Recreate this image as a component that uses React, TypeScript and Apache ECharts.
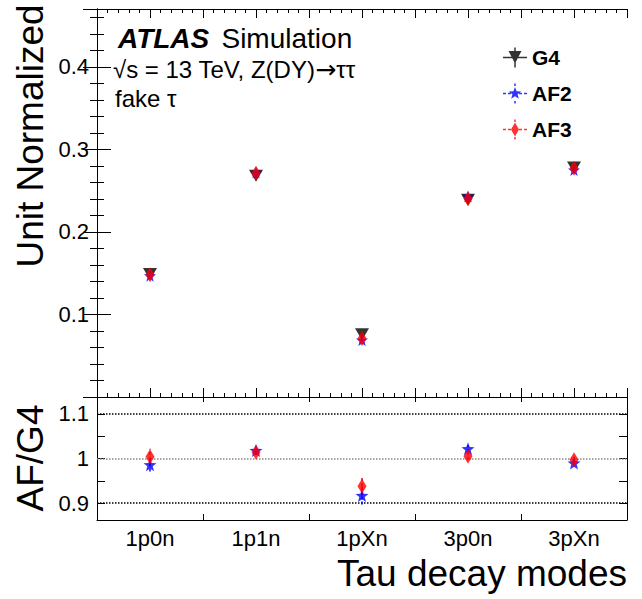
import React, { useEffect, useRef } from "react";
import * as echarts from "echarts";

const categories = ["1p0n", "1p1n", "1pXn", "3p0n", "3pXn"];
const g4Values = [0.149, 0.268, 0.076, 0.239, 0.278];
const af2Values = [0.147, 0.272, 0.069, 0.243, 0.275];
const af3Values = [0.148, 0.271, 0.071, 0.240, 0.277];
const g4Err = [0.002, 0.003, 0.0015, 0.003, 0.003];
const af2Err = [0.002, 0.003, 0.0015, 0.003, 0.003];
const af3Err = [0.002, 0.003, 0.0015, 0.003, 0.003];
const ratioAf2 = [0.986, 1.018, 0.917, 1.022, 0.99];
const ratioAf2Err = [0.015, 0.006, 0.02, 0.008, 0.006];
const ratioAf3 = [1.004, 1.014, 0.938, 1.005, 0.997];
const ratioAf3Err = [0.018, 0.006, 0.022, 0.008, 0.007];
const upperTickLabels = ["0.1", "0.2", "0.3", "0.4"];
const lowerTickLabels = ["0.9", "1", "1.1"];
const refLines = [0.9, 1.0, 1.1];

const FONT = "'Liberation Sans', Arial, Helvetica, sans-serif";
const STAR =
  "path://M12 3.5L13.59 7.82L18.18 7.99L14.57 10.83L15.82 15.26L12 12.7L8.18 15.26L9.43 10.83L5.82 7.99L10.41 7.82Z";

const ICON_G4 =
  "path://M0 9.25H24V10.75H0Z M11.25 0H12.75V20H11.25Z M5.5 3.5L18.5 3.5L12 16Z";
const DASHES =
  "M0 9.25H3V10.75H0Z M5 9.25H8V10.75H5Z M16 9.25H19V10.75H16Z M21 9.25H24V10.75H21Z M11.25 0H12.75V2.5H11.25Z M11.25 17.5H12.75V20H11.25Z";
const ICON_AF2 =
  "path://" +
  DASHES +
  " M12 3.5L13.59 7.82L18.18 7.99L14.57 10.83L15.82 15.26L12 12.7L8.18 15.26L9.43 10.83L5.82 7.99L10.41 7.82Z";
const ICON_AF3 = "path://" + DASHES + " M12 3L16 10L12 17L8 10Z";

function errData(vals: number[], errs: number[]) {
  return vals.map((v, i) => [i, v - errs[i], v + errs[i]]);
}

function errSeries(
  name: string,
  xi: number,
  yi: number,
  data: number[][],
  color: string,
  dash: number[] | null
) {
  return {
    name,
    type: "custom",
    xAxisIndex: xi,
    yAxisIndex: yi,
    z: 1,
    silent: true,
    encode: { x: 0, y: [1, 2] },
    data,
    renderItem: (params: any, api: any) => {
      const p1 = api.coord([api.value(0), api.value(1)]);
      const p2 = api.coord([api.value(0), api.value(2)]);
      return {
        type: "line",
        shape: { x1: p1[0], y1: p1[1], x2: p2[0], y2: p2[1] },
        style: { stroke: color, lineWidth: 1.5, lineDash: dash || undefined },
      };
    },
  };
}

const near = (v: number, t: number) => Math.abs(v - t) < 1e-6;

export default function App() {
  const ref = useRef<HTMLDivElement>(null);
  useEffect(() => {
    if (!ref.current) return;
    const chart = echarts.init(ref.current, null, { renderer: "svg" });
    const axisLine = { show: true, lineStyle: { color: "#000", width: 1 } };
    const tickX = (len: number) => ({
      show: true,
      inside: true,
      length: len,
      lineStyle: { color: "#000", width: 1 },
    });
    const upperY = (pos: string, labels: boolean) => ({
      type: "value",
      gridIndex: 0,
      position: pos,
      min: 0,
      max: 0.47,
      interval: 0.1,
      axisLine,
      axisTick: { show: true, inside: true, length: 14, lineStyle: { color: "#000" } },
      minorTick: { show: true, splitNumber: 5, length: 7, lineStyle: { color: "#000" } },
      splitLine: { show: false },
      axisLabel: {
        show: labels,
        fontFamily: FONT,
        fontSize: 22,
        color: "#000",
        margin: 8,
        formatter: (v: number) => {
          const s = upperTickLabels.find((t) => near(v, parseFloat(t)));
          return s || "";
        },
      },
    });
    const lowerY = (pos: string, labels: boolean) => ({
      type: "value",
      gridIndex: 1,
      position: pos,
      min: 0.862,
      max: 1.138,
      splitNumber: 5,
      axisLine,
      axisTick: { show: true, inside: true, length: 8, lineStyle: { color: "#000" } },
      splitLine: { show: false },
      axisLabel: {
        show: labels,
        fontFamily: FONT,
        fontSize: 22,
        color: "#000",
        margin: 8,
        formatter: (v: number) => {
          const s = lowerTickLabels.find((t) => near(v, parseFloat(t)));
          return s || "";
        },
      },
    });
    const upperX = (pos: string) => ({
      type: "value",
      gridIndex: 0,
      position: pos,
      min: 0,
      max: 5,
      interval: 0.5,
      axisLine,
      axisTick: tickX(9),
      minorTick: { show: true, splitNumber: 5, length: 4, lineStyle: { color: "#000" } },
      splitLine: { show: false },
      axisLabel: { show: false },
    });

    const option: any = {
      animation: false,
      backgroundColor: "#fff",
      grid: [
        { left: 97, top: 9, width: 530, height: 388 },
        { left: 97, top: 397, width: 530, height: 123 },
      ],
      xAxis: [
        { type: "category", gridIndex: 0, data: categories, boundaryGap: true, show: false },
        upperX("bottom"),
        upperX("top"),
        {
          type: "category",
          gridIndex: 1,
          position: "bottom",
          data: categories,
          boundaryGap: true,
          axisLine,
          axisTick: tickX(6),
          splitLine: { show: false },
          axisLabel: { fontFamily: FONT, fontSize: 22, color: "#000", margin: 7 },
        },
        {
          type: "category",
          gridIndex: 1,
          position: "top",
          data: categories,
          boundaryGap: true,
          axisLine,
          axisTick: tickX(5),
          axisLabel: { show: false },
        },
      ],
      yAxis: [upperY("left", true), upperY("right", false), lowerY("left", true), lowerY("right", false)],
      legend: {
        orient: "vertical",
        left: 498,
        top: 42,
        itemWidth: 24,
        itemHeight: 20,
        itemGap: 15,
        textStyle: { fontFamily: FONT, fontSize: 21, fontWeight: "bold", color: "#000" },
        data: [
          { name: "G4", icon: ICON_G4 },
          { name: "AF2", icon: ICON_AF2 },
          { name: "AF3", icon: ICON_AF3 },
        ],
      },
      series: [
        errSeries("G4 err", 0, 0, errData(g4Values, g4Err), "#000", null),
        errSeries("AF2 err", 0, 0, errData(af2Values, af2Err), "#0000ff", [3, 2]),
        errSeries("AF3 err", 0, 0, errData(af3Values, af3Err), "#ff0000", [3, 2]),
        {
          name: "G4",
          type: "scatter",
          xAxisIndex: 0,
          yAxisIndex: 0,
          data: g4Values,
          symbol: "triangle",
          symbolRotate: 180,
          symbolSize: [14, 12],
          itemStyle: { color: "#000" },
          z: 3,
        },
        {
          name: "AF2",
          type: "scatter",
          xAxisIndex: 0,
          yAxisIndex: 0,
          data: af2Values,
          symbol: STAR,
          symbolSize: 12,
          itemStyle: { color: "#0000ff" },
          z: 4,
        },
        {
          name: "AF3",
          type: "scatter",
          xAxisIndex: 0,
          yAxisIndex: 0,
          data: af3Values,
          symbol: "diamond",
          symbolSize: [9, 15],
          itemStyle: { color: "#ff0000" },
          z: 5,
        },
        errSeries("AF2 ratio err", 3, 2, errData(ratioAf2, ratioAf2Err), "#0000ff", [3, 2]),
        errSeries("AF3 ratio err", 3, 2, errData(ratioAf3, ratioAf3Err), "#ff0000", [3, 2]),
        {
          name: "AF2 ratio",
          type: "scatter",
          xAxisIndex: 3,
          yAxisIndex: 2,
          data: ratioAf2,
          symbol: STAR,
          symbolSize: 13,
          itemStyle: { color: "#0000ff" },
          z: 4,
          markLine: {
            silent: true,
            symbol: "none",
            label: { show: false },
            z: 1,
            data: refLines.map((v) => ({
              yAxis: v,
              lineStyle: {
                type: "dotted",
                color: near(v, 1) ? "#888" : "#000",
                width: 1.5,
              },
            })),
          },
        },
        {
          name: "AF3 ratio",
          type: "scatter",
          xAxisIndex: 3,
          yAxisIndex: 2,
          data: ratioAf3,
          symbol: "diamond",
          symbolSize: [9, 15],
          itemStyle: { color: "#ff0000" },
          z: 5,
        },
      ],
      graphic: [
        {
          type: "text",
          x: 118,
          y: 38,
          style: {
            text: "{a|ATLAS}{s| }{b|Simulation}",
            verticalAlign: "middle",
            rich: {
              a: { fontFamily: FONT, fontSize: 28, fontWeight: "bold", fontStyle: "italic", fill: "#000" },
              s: { fontFamily: FONT, fontSize: 44, fill: "#000" },
              b: { fontFamily: FONT, fontSize: 28, fill: "#000" },
            },
          },
        },
        {
          type: "text",
          x: 113,
          y: 69,
          style: {
            text: "√s = 13 TeV, Z(DY){r|→}ττ",
            fontFamily: FONT,
            fontSize: 24,
            fill: "#000",
            verticalAlign: "middle",
            rich: { r: { fontFamily: "'DejaVu Sans'", fontSize: 25, fill: "#000" } },
          },
        },
        {
          type: "text",
          x: 115,
          y: 98,
          style: { text: "fake τ", font: `24px ${FONT}`, fill: "#000", verticalAlign: "middle" },
        },
        {
          type: "text",
          x: 30,
          y: 136,
          rotation: Math.PI / 2,
          style: {
            text: "Unit Normalized",
            font: `37px ${FONT}`,
            fill: "#000",
            align: "center",
            verticalAlign: "middle",
          },
        },
        {
          type: "text",
          x: 30,
          y: 458,
          rotation: Math.PI / 2,
          style: {
            text: "AF/G4",
            font: `37px ${FONT}`,
            fill: "#000",
            align: "center",
            verticalAlign: "middle",
          },
        },
        {
          type: "text",
          x: 627,
          y: 573,
          style: {
            text: "Tau decay modes",
            font: `37px ${FONT}`,
            fill: "#000",
            align: "right",
            verticalAlign: "middle",
          },
        },
      ],
    };
    chart.setOption(option);
    return () => chart.dispose();
  }, []);
  return (
    <div
      ref={ref}
      style={{ position: "fixed", left: 0, top: 0, width: 642, height: 599, background: "#fff" }}
    />
  );
}
